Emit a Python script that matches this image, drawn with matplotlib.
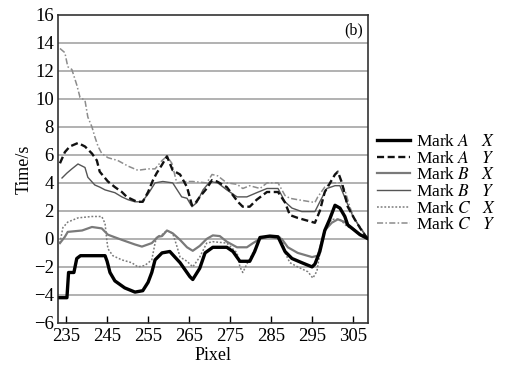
import numpy as np
import matplotlib
matplotlib.use('Agg')
import matplotlib.pyplot as plt

plt.rcParams['font.family'] = ['Liberation Serif', 'DejaVu Serif']
plt.rcParams['mathtext.fontset'] = 'stix'

# pixel position (x) and time (y) for each track
ax_x = [233.5, 235.2, 235.6, 236.9, 237.6, 238.5, 244.5, 245.0, 245.7, 246.9,
        249.3, 251.8, 253.7, 255.0, 255.9, 256.7, 258.4, 260.3, 262.8, 265.2,
        265.9, 267.6, 268.9, 270.8, 274.2, 275.7, 277.4, 279.8, 281.0, 282.3,
        284.7, 286.7, 288.4, 290.1, 292.5, 295.0, 295.7, 296.9, 298.1, 299.3,
        300.6, 301.8, 303.0, 303.7, 305.0, 306.7, 308.4]
ax_y = [-4.2, -4.2, -2.4, -2.4, -1.4, -1.2, -1.2, -1.6, -2.4, -3.0,
        -3.5, -3.8, -3.7, -3.1, -2.4, -1.5, -1.0, -0.9, -1.7, -2.7,
        -2.9, -2.1, -1.0, -0.6, -0.6, -0.9, -1.6, -1.6, -0.9, 0.1,
        0.2, 0.15, -0.9, -1.4, -1.7, -2.0, -1.8, -0.9, 0.6, 1.4,
        2.4, 2.2, 1.6, 1.0, 0.7, 0.3, 0.05]

ay_x = [233.5, 234.7, 235.9, 237.9, 239.6, 241.3, 242.5, 243.2, 245.2, 246.9,
        248.6, 249.8, 252.3, 253.7, 255.0, 256.2, 257.1, 258.4, 259.6, 261.0,
        262.8, 264.5, 265.7, 266.4, 267.6, 269.3, 270.6, 271.8, 274.2, 276.9,
        278.1, 279.8, 281.5, 284.0, 286.7, 288.4, 289.6, 291.5, 295.7, 296.9,
        298.1, 299.8, 300.6, 301.3, 302.3, 303.7, 305.4, 307.1, 308.4]
ay_y = [5.4, 6.2, 6.6, 6.85, 6.6, 6.1, 5.6, 4.8, 4.1, 3.7,
        3.35, 3.0, 2.65, 2.65, 3.35, 4.2, 4.7, 5.3, 5.9, 4.9,
        4.6, 3.7, 2.4, 2.5, 3.0, 3.6, 4.2, 4.1, 3.7, 2.65,
        2.3, 2.3, 2.8, 3.35, 3.35, 2.6, 1.7, 1.5, 1.15, 2.0,
        3.35, 4.2, 4.6, 4.8, 4.0, 2.3, 1.4, 0.6, 0.07]

bx_x = [233.5, 234.7, 235.4, 238.9, 241.3, 243.7, 245.2, 248.6, 251.8, 253.5,
        255.9, 257.4, 258.4, 259.6, 261.0, 262.8, 264.5, 265.9, 267.6, 269.3,
        270.8, 272.5, 274.2, 276.7, 279.1, 280.6, 282.3, 284.0, 287.6, 289.1,
        291.5, 295.0, 296.4, 298.1, 299.8, 301.3, 303.0, 304.7, 306.7, 308.4]
bx_y = [-0.3, 0.15, 0.5, 0.6, 0.85, 0.75, 0.3, -0.07, -0.4, -0.55,
        -0.3, 0.15, 0.2, 0.6, 0.4, -0.07, -0.6, -0.85, -0.5, 0.0,
        0.25, 0.2, -0.2, -0.6, -0.6, -0.3, 0.0, 0.15, 0.0, -0.6,
        -1.0, -1.3, -1.2, 0.6, 1.15, 1.4, 1.2, 0.8, 0.3, 0.05]

by_x = [234.0, 235.2, 236.4, 237.9, 239.6, 240.3, 242.0, 243.2, 244.5, 246.9,
        248.6, 250.1, 251.8, 253.5, 255.0, 256.7, 258.6, 261.0, 263.2, 264.5,
        265.7, 266.9, 268.4, 270.1, 272.0, 274.2, 276.7, 279.1, 281.5, 284.0,
        286.7, 288.4, 290.1, 292.5, 295.7, 296.9, 298.6, 300.6, 301.8, 303.5,
        305.0, 306.7, 308.4]
by_y = [4.35, 4.7, 5.0, 5.35, 5.1, 4.4, 3.85, 3.7, 3.5, 3.3,
        3.0, 2.8, 2.65, 2.65, 3.2, 4.0, 4.1, 4.0, 3.0, 2.9,
        2.3, 2.6, 3.5, 4.1, 4.0, 3.5, 3.0, 3.0, 3.3, 3.6,
        3.6, 2.65, 2.2, 1.95, 1.95, 2.65, 3.6, 3.8, 3.8, 2.6,
        1.6, 0.8, 0.1]

cx_x = [233.5, 234.2, 235.4, 237.9, 241.3, 243.7, 244.5, 244.9, 245.2, 246.4,
        248.6, 251.0, 252.5, 254.2, 255.9, 256.7, 257.1, 258.4, 259.6, 261.0,
        262.0, 262.8, 264.5, 265.9, 267.6, 269.3, 270.8, 274.2, 276.7, 277.4,
        278.1, 279.1, 280.6, 282.3, 284.0, 287.6, 288.4, 289.6, 291.5, 294.0,
        295.2, 296.2, 296.9, 298.1, 299.8, 301.8, 303.5, 305.0, 306.7, 308.4]
cx_y = [-0.3, 0.8, 1.2, 1.5, 1.6, 1.6, 1.1, 0.0, -0.7, -1.2,
        -1.5, -1.7, -2.0, -1.9, -1.5, -0.3, 0.15, 0.3, 0.6, 0.4,
        -0.5, -1.3, -1.6, -2.0, -1.3, -0.3, -0.2, -0.3, -1.0, -2.0,
        -2.4, -1.8, -1.0, 0.0, 0.15, 0.1, -1.0, -1.7, -2.0, -2.35,
        -2.8, -2.3, -1.0, 0.6, 1.4, 1.4, 0.9, 0.7, 0.3, 0.05]

cy_x = [233.5, 234.7, 235.4, 236.4, 237.6, 238.4, 239.6, 240.3, 241.3, 242.0,
        242.8, 243.7, 245.2, 247.6, 250.1, 252.5, 255.0, 256.7, 258.4, 259.6,
        260.8, 262.0, 264.5, 265.9, 269.3, 270.6, 272.0, 274.2, 276.7, 278.1,
        279.8, 282.3, 284.0, 286.7, 288.4, 289.6, 291.5, 295.7, 296.4, 298.1,
        299.8, 301.8, 303.0, 304.2, 305.4, 307.1, 308.4]
cy_y = [13.6, 13.3, 12.3, 12.1, 11.0, 10.1, 9.9, 8.7, 8.0, 7.3,
        6.6, 6.1, 5.8, 5.6, 5.2, 4.9, 5.0, 5.0, 5.6, 5.9,
        5.4, 4.0, 4.1, 4.1, 4.0, 4.6, 4.5, 4.0, 3.9, 3.6,
        3.8, 3.6, 4.0, 4.0, 3.1, 2.9, 2.8, 2.6, 3.0, 3.7,
        4.0, 4.0, 3.5, 2.3, 1.4, 0.7, 0.1]

labels = ['Mark $A$   $X$', 'Mark $A$   $Y$', 'Mark $B$   $X$',
          'Mark $B$   $Y$', 'Mark $C$   $X$', 'Mark $C$   $Y$']
xticks = [235, 245, 255, 265, 275, 285, 295, 305]
yticks = list(range(-6, 17, 2))

fig = plt.figure(figsize=(5.08, 3.72), dpi=100)
ax = fig.add_axes([0.114, 0.132, 0.61, 0.828])

for yv in yticks[1:-1]:
	ax.axhline(yv, color='#ababab', lw=1.3, zorder=1)

ax.plot(cy_x, cy_y, color='#8c8c8c', lw=1.1, ls=(0, (4, 1.5, 1, 1.5)), label=labels[5], zorder=2)
ax.plot(cx_x, cx_y, color='#7a7a7a', lw=1.1, ls=(0, (1.2, 1.2)), label=labels[4], zorder=2)
ax.plot(by_x, by_y, color='#555555', lw=1.0, label=labels[3], zorder=3)
ax.plot(bx_x, bx_y, color='#7a7a7a', lw=1.6, label=labels[2], zorder=3)
ax.plot(ay_x, ay_y, color='#111111', lw=1.7, ls=(0, (3, 1.5)), label=labels[1], zorder=4)
ax.plot(ax_x, ax_y, color='black', lw=2.4, label=labels[0], zorder=5)

ax.set_xlim(233, 308.6)
ax.set_ylim(-6, 16)
ax.set_xticks(xticks)
ax.set_yticks(yticks)
ax.set_yticklabels([str(v).replace('-', '\u2212') for v in yticks])
ax.tick_params(axis='x', direction='in', length=5, width=1, labelsize=13.5, pad=4)
ax.tick_params(axis='y', direction='in', length=0, labelsize=13.5, pad=3)
for s in ax.spines.values():
	s.set_color('#333333')
	s.set_linewidth(1.2)

ax.set_xlabel('Pixel', fontsize=13, labelpad=1)
ax.set_ylabel('Time/s', fontsize=13, labelpad=1)
ax.text(0.985, 0.975, '(b)', transform=ax.transAxes, ha='right', va='top', fontsize=11.5)

h, l = ax.get_legend_handles_labels()
order = [5, 4, 3, 2, 1, 0]
fig.legend([h[i] for i in order], [l[i] for i in order], loc='upper left',
           bbox_to_anchor=(0.742, 0.64), frameon=False, fontsize=12.5,
           handlelength=1.9, handletextpad=0.35, labelspacing=0.03,
           borderpad=0, borderaxespad=0)

fig.savefig('out.png', dpi=100)
